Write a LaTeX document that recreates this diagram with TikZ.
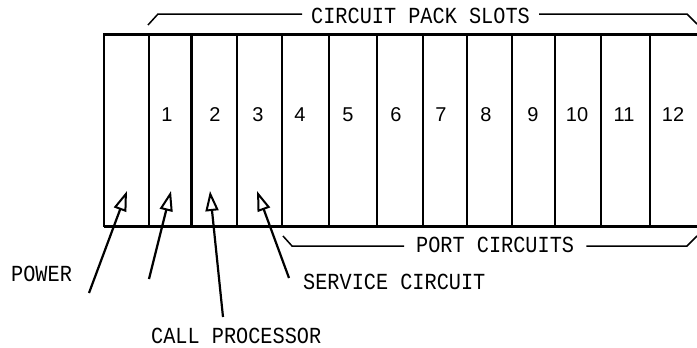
\documentclass[tikz,border=0pt]{standalone}
\usepackage{fontspec}
\setmainfont{Liberation Sans}
\newfontfamily\labelfont[FakeStretch=0.88]{Liberation Mono}
\usetikzlibrary{arrows.meta}
\tikzset{
  lbl/.style={inner sep=0pt, anchor=west, font=\labelfont\fontsize{23}{24}\selectfont},
  num/.style={inner sep=0pt, font=\fontsize{20}{20}\selectfont},
  divider/.style={line width=2.2pt},
  frame/.style={line width=2.5pt},
  brk/.style={line width=1.5pt},
  ptr/.style={line width=2.2pt, -{Triangle[open,length=20pt,width=13pt,line width=2pt]}}
}
\begin{document}
\begin{tikzpicture}[x=1pt,y=-1pt]
\useasboundingbox (0,0) rectangle (697,348);
% frame
\draw[frame] (697,34.5) -- (104,34.5) -- (104,226.5);
\draw[line width=3.5pt] (104,226.5) -- (697,226.5);
% dividers
\foreach \x in {149,191.5,237,282,329,377,423,467,512,555,601,650}
  \draw[divider] (\x,36) -- (\x,226.5);
% numbers
\foreach \x/\n in {167/1,215/2,258/3,300/4,348/5,396/6,441/7,486/8,533/9,577/10,624/11,673/12}
  \node[num] (n\n) at (\x,115) {\n};
% top bracket
\node[lbl] (slots) at (311,16) {CIRCUIT PACK SLOTS};
\draw[brk] (148,25) -- (158,14) -- ([xshift=-9pt]slots.west |- 0,14);
\draw[brk] ([xshift=9pt]slots.east |- 0,14) -- (687,14) -- (697,24);
% bottom bracket
\node[lbl] (ports) at (416,245) {PORT CIRCUITS};
\draw[brk] (283,236) -- (292,246) -- ([xshift=-12pt]ports.west |- 0,246);
\draw[brk] ([xshift=12pt]ports.east |- 0,246) -- (687,246) -- (697,236);
% labels
\node[lbl] (power) at (11,274) {POWER};
\node[lbl] (callp) at (151,336) {CALL PROCESSOR};
\node[lbl] (serv) at (303,282) {SERVICE CIRCUIT};
% arrow coordinates
\coordinate (t1) at (89,293);  \coordinate (h1) at (127,191);
\coordinate (t2) at (149,279); \coordinate (h2) at (171,191);
\coordinate (t3) at (223,317); \coordinate (h3) at (210,191);
\coordinate (t4) at (289,278); \coordinate (h4) at (257,191);
\draw[ptr] (t1) -- (h1);
\draw[ptr] (t2) -- (h2);
\draw[ptr] (t3) -- (h3);
\draw[ptr] (t4) -- (h4);
\end{tikzpicture}
\end{document}
